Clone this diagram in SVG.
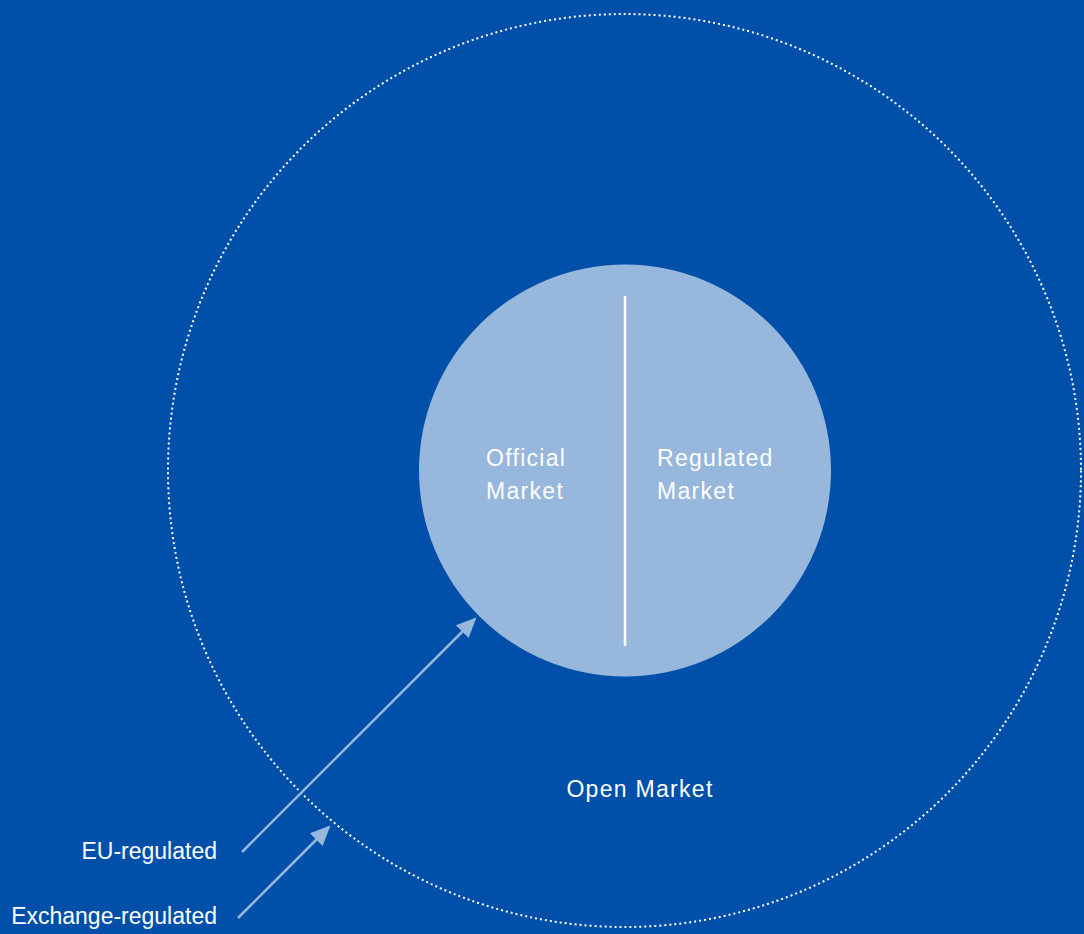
<svg xmlns="http://www.w3.org/2000/svg" width="1084" height="934" viewBox="0 0 1084 934">
<defs>
<style>
.t{font-family:"Liberation Sans",Arial,sans-serif;font-size:23px;fill:#ffffff}
.w{letter-spacing:1.3px}
.conn{stroke:#97b7dc;stroke-width:2.5;fill:none}
</style>
<marker id="ah2" viewBox="0 0 20 20" refX="18" refY="10" markerWidth="20" markerHeight="20" orient="auto" markerUnits="userSpaceOnUse">
<path d="M0,1 L20,10 L0,19 z" fill="#97b7dc"/>
</marker>
</defs>
<rect width="1084" height="934" fill="#0050aa"/>
<g id="open-market">
<circle cx="624.5" cy="470.5" r="456.5" fill="none" stroke="#ffffff" stroke-width="2" stroke-dasharray="2 3"/>
<text class="t w" x="640" y="797" text-anchor="middle">Open Market</text>
</g>
<g id="inner">
<circle cx="625" cy="470.5" r="206" fill="#97b7dc"/>
<line x1="625" y1="296" x2="625" y2="646" stroke="#ffffff" stroke-width="2.5"/>
</g>
<g id="official">
<text class="t w" x="486" y="466">Official</text>
<text class="t w" x="486" y="499">Market</text>
</g>
<g id="regulated">
<text class="t w" x="657" y="466">Regulated</text>
<text class="t w" x="657" y="499">Market</text>
</g>
<g id="eu-label"><text class="t" x="217" y="859" text-anchor="end">EU-regulated</text></g>
<g id="ex-label"><text class="t" x="217" y="924" text-anchor="end">Exchange-regulated</text></g>
<g id="connectors">
<line class="conn" x1="242" y1="852" x2="475" y2="619" marker-end="url(#ah2)"/>
<line class="conn" x1="238" y1="918" x2="329" y2="827" marker-end="url(#ah2)"/>
</g>
</svg>
